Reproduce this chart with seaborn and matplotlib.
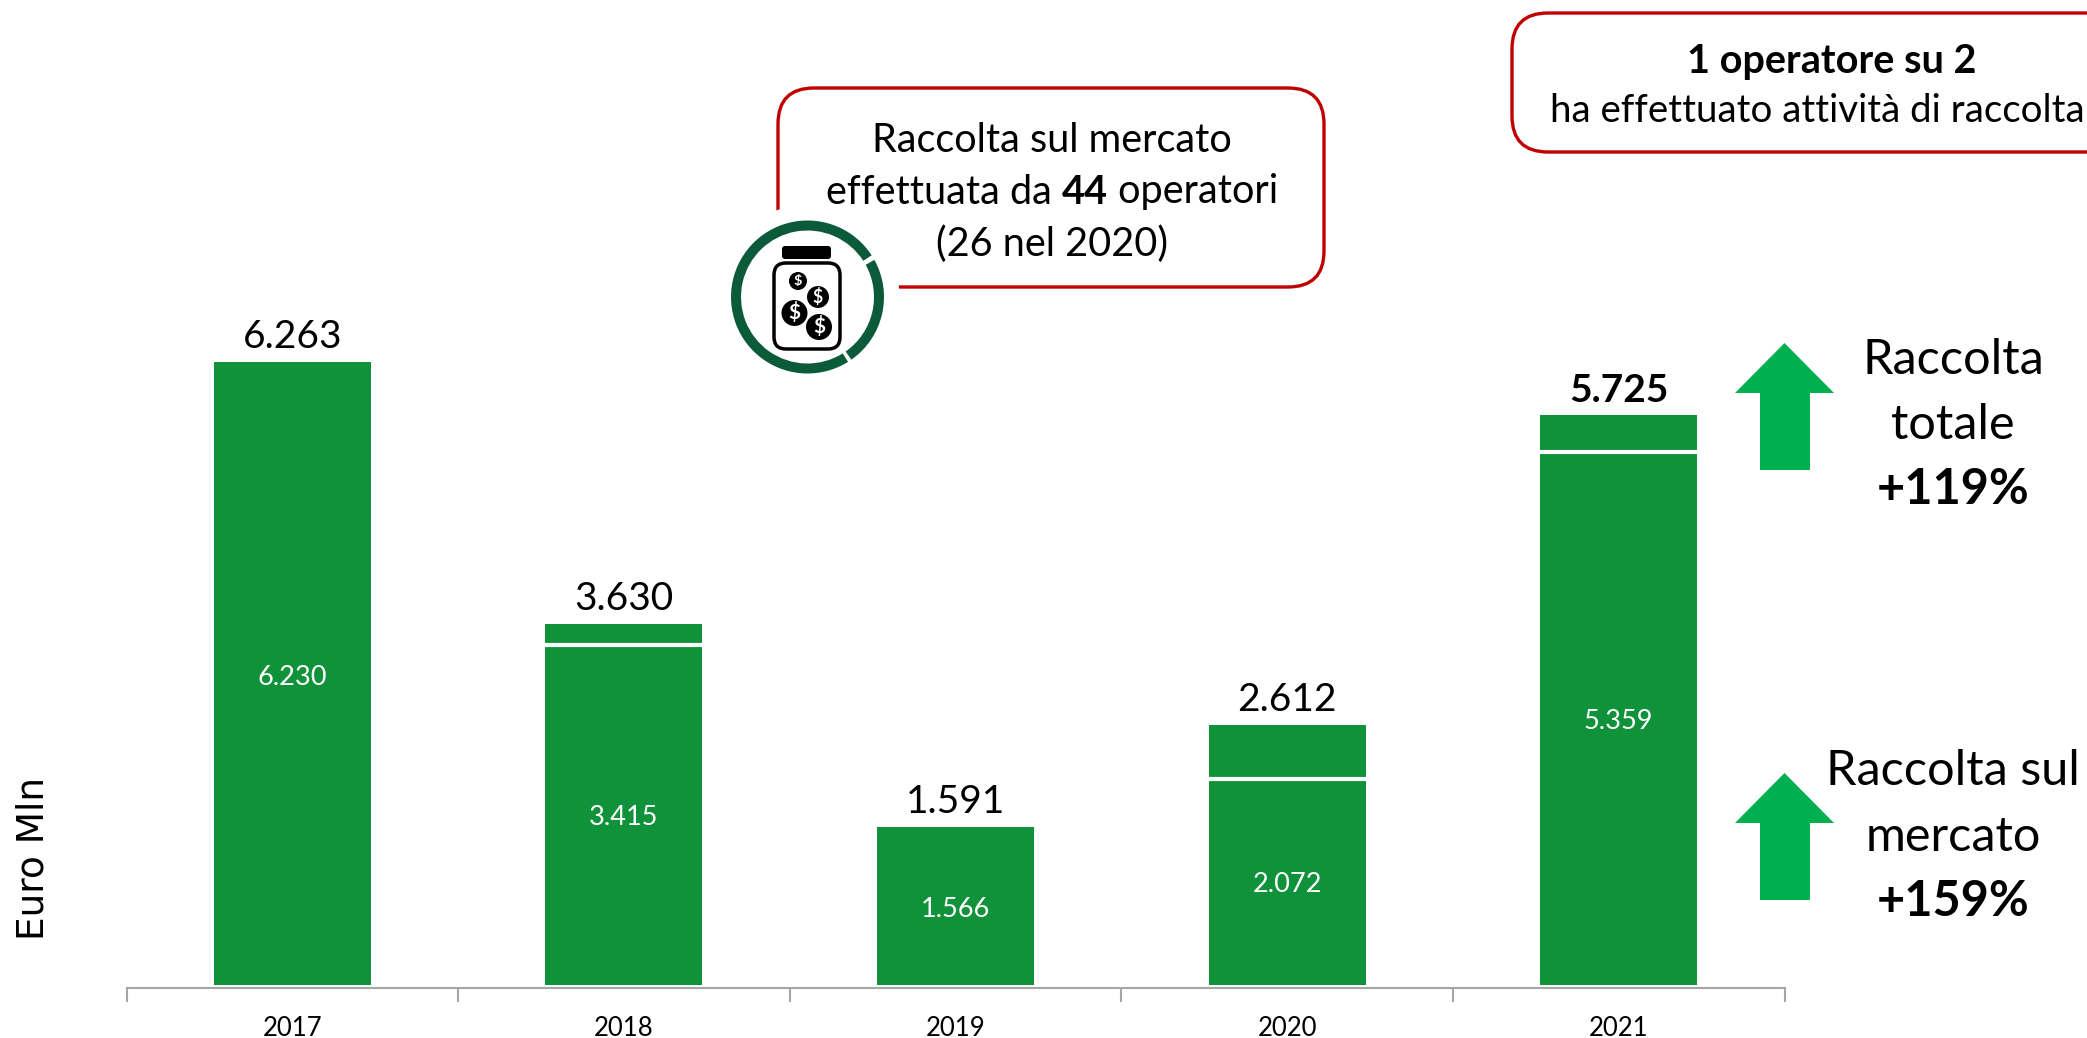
import matplotlib
matplotlib.use("Agg")
import matplotlib.pyplot as plt
import pandas as pd
import seaborn as sns
from matplotlib.patches import Circle, FancyBboxPatch, Polygon, Wedge

sns.set_theme(style="white")
plt.rcParams["font.family"] = ["Lato", "DejaVu Sans"]

years = ["2017", "2018", "2019", "2020", "2021"]
totale = [6263, 3630, 1591, 2612, 5725]
mercato = [6230, 3415, 1566, 2072, 5359]
bold_years = ["2021"]

W, H = 2087, 1038
GREEN, ARROW, RED = "#0F923A", "#00B050", "#C00000"
BASE = 985
BAR_W = 0.473

df = pd.DataFrame({"anno": years, "totale": totale, "mercato": mercato})
fmt = lambda v: f"{v:,}".replace(",", ".")

fig = plt.figure(figsize=(W / 100, H / 100), dpi=100, facecolor="white")
ax = fig.add_axes([126.5 / W, (H - BASE) / H, 1658 / W, BASE / H])

# ── bars ──────────────────────────────────────────────────────────────────────
sns.barplot(df, x="anno", y="totale", color=GREEN, saturation=1, width=BAR_W, linewidth=0, ax=ax)
sns.barplot(df, x="anno", y="mercato", color=GREEN, saturation=1, width=BAR_W, linewidth=0, ax=ax)
tot_bars, mkt_bars = ax.containers[0], ax.containers[1]
mkt_labels = ax.bar_label(mkt_bars, labels=[fmt(v) for v in mercato], label_type="center",
                          color="white", fontsize=19.5)
for lab in mkt_labels:
    lab.xyann = (0, -2)
tot_labels = ax.bar_label(tot_bars, labels=[fmt(v) for v in totale], padding=5,
                          color="black", fontsize=28)
for lab, y in zip(tot_labels, years):
    if y in bold_years:
        lab.set_fontweight("bold")

# white gap between the two parts, only where the upper part is tall enough
for i, (t, m) in enumerate(zip(totale, mercato)):
    if t - m > 100:
        ax.hlines(m, i - BAR_W / 2, i + BAR_W / 2, color="white", lw=3, zorder=5)

ax.set_xlim(-0.5, 4.5); ax.set_ylim(0, 9900)
ax.set_xlabel(""); ax.set_ylabel(""); ax.set_yticks([])
ax.patch.set_alpha(0)
for s in ["top", "left", "right"]:
    ax.spines[s].set_visible(False)
ax.spines["bottom"].set_position(("outward", 2))
ax.spines["bottom"].set_color("#A6A6A6"); ax.spines["bottom"].set_linewidth(1.5)
ax.set_xticks([i - 0.5 for i in range(6)], minor=True)
ax.tick_params(axis="x", which="minor", length=10, width=1.5, color="#A6A6A6", bottom=True)
ax.tick_params(axis="x", which="major", length=0, pad=20, labelsize=18.5, labelcolor="black")

# ── overlay in pixel coordinates ──────────────────────────────────────────────
ov = fig.add_axes([0, 0, 1, 1], zorder=3)
ov.set_xlim(0, W); ov.set_ylim(H, 0); ov.axis("off")


def mixed(cx, y, parts, size):
    # one centred line built from (text, weight) pieces
    r = fig.canvas.get_renderer()
    ts = [ov.text(0, y, s, fontsize=size, fontweight=w, va="center", ha="left", color="black")
          for s, w in parts]
    ws = [t.get_window_extent(r).width for t in ts]
    x = cx - sum(ws) / 2
    for t, w in zip(ts, ws):
        t.set_x(x); x += w


for x0, y0, x1, y1 in [(778, 88, 1324, 287), (1512, 13, 2200, 152)]:
    ov.add_patch(FancyBboxPatch((x0 + 36, y0 + 36), x1 - x0 - 72, y1 - y0 - 72,
                                boxstyle="round,pad=36", fc="white", ec=RED, lw=2.4))

ov.text(1052, 141, "Raccolta sul mercato", fontsize=28.5, ha="center", va="center", color="black")
mixed(1052, 192, [("effettuata da ", "normal"), ("44", "bold"), (" operatori", "normal")], 28.5)
ov.text(1052, 244, "(26 nel 2020)", fontsize=28.5, ha="center", va="center", color="black")
ov.text(1832, 61, "1 operatore su 2", fontsize=28.5, fontweight="bold", ha="center", va="center", color="black")
ov.text(2085, 111, "ha effettuato attività di raccolta", fontsize=27.7, ha="right", va="center", color="black")

# jar icon
cx, cy = 807.5, 297
ov.add_patch(Circle((cx, cy), 92, fc="white", ec="none"))
ov.add_patch(Wedge((cx, cy), 76.5, 58, 327, width=10, fc="#0B5A3A", ec="none"))
ov.add_patch(Wedge((cx, cy), 76.5, -29, 55, width=10, fc="#0B5A3A", ec="none"))
ov.add_patch(FancyBboxPatch((785, 249), 43, 7, boxstyle="round,pad=3", fc="black", ec="none"))
ov.add_patch(FancyBboxPatch((786, 275), 42, 62, boxstyle="round,pad=12", fc="white", ec="black", lw=2.5))
for x, y, r in [(798, 281, 9), (818, 297, 11), (794.5, 313, 13), (819, 327, 13)]:
    ov.add_patch(Circle((x, y), r, fc="black", ec="none", zorder=4))
    ov.text(x, y, "$", color="white", fontsize=r * 1.15, fontweight="bold", ha="center", va="center", zorder=5)

# arrows + side text
for top in [343, 773]:
    ov.add_patch(Polygon([(1784.5, top), (1834, top + 50), (1810, top + 50), (1810, top + 127),
                          (1760, top + 127), (1760, top + 50), (1735, top + 50)], fc=ARROW, ec="none"))

for y, s, w in [(360, "Raccolta", "normal"), (425, "totale", "normal"), (490, "+119%", "bold"),
                (771, "Raccolta sul", "normal"), (837, "mercato", "normal"), (901, "+159%", "bold")]:
    ov.text(1953, y, s, fontsize=35, fontweight=w, ha="center", va="center", color="black")

ov.text(34, 858, "Euro Mln", fontsize=27, rotation=90, ha="center", va="center",
        color="black", family="DejaVu Sans")

fig.savefig("out.png", dpi=100)
